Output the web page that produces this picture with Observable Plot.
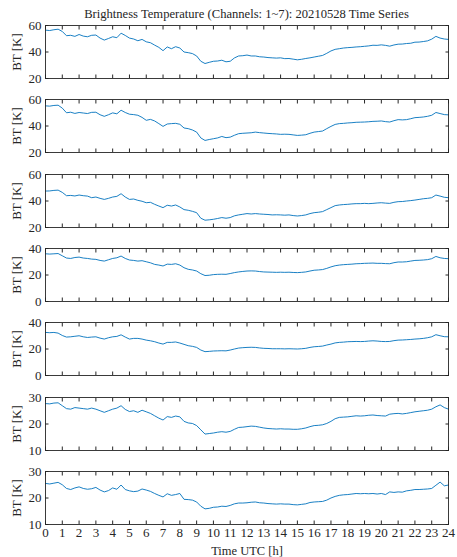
<!DOCTYPE html>
<html>
<head>
<meta charset="utf-8">
<script src="https://cdn.jsdelivr.net/npm/d3@7"></script>
<script src="https://cdn.jsdelivr.net/npm/@observablehq/plot@0.6"></script>
<style>
  body { margin: 0; background: #ffffff; }
  #chart { position: relative; width: 457px; height: 557px; overflow: hidden; background: #ffffff;
           font-family: "Liberation Serif", "Times New Roman", serif; color: #262626; }
  #title { position: absolute; top: 7px; left: 0; width: 493px; text-align: center;
           font-family: "Liberation Serif", "Times New Roman", serif;
           font-size: 12.6px; line-height: 15px; white-space: nowrap; }
  .panel { position: absolute; left: 0; }
</style>
</head>
<body>
<div id="chart">
  <div id="title"></div>
</div>
<script>
const titleText = "Brightness Temperature (Channels: 1~7): 20210528 Time Series";
const xLabel = "Time UTC [h]";
const yLabel = "BT [K]";

// sample times (hours UTC), every 15 minutes
const hours = d3.range(0, 24.25, 0.25);
const xTicks = d3.range(0, 25, 1);

const ch1 = [56.5,56.2,56.8,57.2, 55.5,52.3,52.6,51.8, 53.2,52.0,51.5,52.6, 52.8,50.5,49.0,50.2,
  51.5,50.8,54.2,52.5, 50.5,49.8,48.5,49.5, 47.7,47.0,45.2,43.5, 41.0,43.8,42.5,44.0,
  43.0,40.0,39.5,38.8, 37.0,33.0,31.3,32.2, 33.0,33.2,33.8,32.6, 33.0,35.5,37.0,37.2,
  37.7,37.0,37.0,36.4, 36.2,35.8,35.6,35.4, 35.6,35.0,35.1,34.6, 34.1,34.5,35.1,35.6,
  36.2,36.8,37.4,39.0, 40.8,42.0,42.5,43.0, 43.3,43.5,43.8,44.0, 44.3,44.6,45.1,45.0,
  45.4,45.0,44.4,45.3, 45.9,46.0,46.4,46.6, 47.4,47.5,47.9,48.4, 49.7,51.8,50.5,49.8, 49.5];
const ch2 = [55.2,55.0,55.5,55.7, 53.5,50.0,50.4,49.5, 50.2,49.8,49.4,50.3, 50.4,48.5,47.3,48.5,
  49.9,49.2,51.9,50.2, 48.9,48.6,48.1,46.5, 44.3,45.0,43.8,41.8, 39.7,41.5,41.8,42.0,
  41.3,38.5,38.0,37.0, 35.4,31.0,29.1,29.8, 30.4,31.0,32.1,31.2, 31.6,33.0,34.2,34.5,
  34.7,34.9,35.4,35.0, 34.7,34.4,34.2,34.0, 33.7,33.8,33.7,33.3, 32.9,33.1,33.4,34.5,
  35.4,35.8,36.2,38.0, 39.7,41.2,41.8,42.0, 42.3,42.5,42.8,42.9, 43.0,43.2,43.5,43.6,
  43.8,43.3,43.0,44.0, 44.8,44.6,44.8,45.5, 46.3,46.5,46.8,47.3, 48.1,50.2,49.4,48.6, 48.4];
const ch3 = [47.5,47.6,48.0,48.2, 46.5,44.0,44.2,43.8, 44.5,44.0,43.7,42.5, 43.0,42.0,41.2,42.0,
  43.0,43.5,45.5,43.0, 41.2,41.5,40.5,39.8, 38.7,39.0,37.5,36.2, 35.0,36.8,36.2,37.0,
  35.5,33.5,33.0,32.2, 31.2,27.0,25.5,25.8, 26.2,26.8,27.5,27.0, 27.5,28.8,29.5,30.0,
  30.5,30.2,30.5,30.2, 30.0,29.8,29.5,29.6, 29.5,29.3,29.5,29.0, 28.7,29.0,29.5,30.5,
  31.2,31.5,32.0,33.5, 35.0,36.5,37.0,37.3, 37.5,37.8,38.0,38.0, 38.2,38.0,38.2,38.5,
  38.7,38.4,38.2,39.0, 39.5,39.6,40.0,40.3, 40.7,41.2,41.7,42.0, 42.5,44.5,43.7,42.8, 42.5];
const ch4 = [36.0,35.8,36.0,36.2, 34.5,32.8,32.5,33.2, 33.5,32.8,32.5,32.0, 31.8,31.0,30.5,31.5,
  32.5,33.0,34.3,32.5, 31.3,31.0,30.5,30.8, 30.0,29.2,28.0,27.5, 26.8,28.2,28.0,28.5,
  27.5,25.5,24.3,23.8, 23.0,21.0,19.6,19.8, 20.3,20.5,20.6,20.5, 21.1,21.8,22.3,22.7,
  23.0,23.1,23.0,22.6, 22.3,22.2,22.1,22.0, 22.1,22.0,22.1,21.9, 21.8,22.0,22.3,23.0,
  23.6,23.8,24.1,25.0, 26.1,27.0,27.5,27.8, 28.0,28.2,28.5,28.6, 28.8,28.9,29.0,28.8,
  28.8,28.6,28.5,29.3, 29.8,29.8,30.0,30.5, 31.0,31.1,31.3,31.6, 32.3,34.0,33.0,32.5, 32.3];
const ch5 = [32.5,32.3,32.5,32.0, 30.2,29.0,29.2,29.6, 30.0,29.2,28.7,29.0, 29.2,28.2,27.5,28.5,
  29.2,29.5,30.7,29.0, 27.5,28.0,28.0,27.5, 26.7,26.2,25.5,24.5, 23.7,25.0,25.0,25.3,
  24.5,23.5,22.5,22.0, 21.2,19.2,18.0,18.2, 18.5,18.6,18.7,18.6, 19.2,20.0,20.7,21.0,
  21.2,21.3,21.2,20.8, 20.5,20.4,20.2,20.2, 20.2,20.1,20.2,20.1, 20.0,20.2,20.5,21.2,
  21.7,21.9,22.2,23.0, 23.7,24.6,25.0,25.2, 25.5,25.6,25.7,25.6, 25.7,26.0,26.2,26.0,
  25.7,25.6,25.7,26.3, 26.7,26.8,27.0,27.2, 27.5,27.7,28.0,28.5, 29.2,30.8,30.0,29.3, 29.2];
const ch6 = [27.7,27.6,27.9,28.0, 26.9,25.8,25.6,26.2, 26.0,25.8,25.6,26.0, 25.6,25.0,24.4,25.0,
  25.6,26.0,26.9,25.5, 24.7,25.0,24.4,25.2, 24.6,24.0,23.1,22.2, 21.5,22.8,22.5,23.0,
  22.7,21.0,20.4,20.2, 19.4,17.8,16.2,16.4, 16.6,16.9,17.1,16.9, 17.2,18.0,18.7,18.8,
  19.0,19.2,19.1,18.8, 18.5,18.3,18.2,18.1, 18.2,18.1,18.1,18.0, 18.0,18.2,18.5,19.0,
  19.4,19.5,19.7,20.2, 21.0,22.0,22.5,22.6, 22.7,22.9,23.1,23.0, 23.1,23.3,23.4,23.2,
  23.1,23.0,23.7,23.9, 24.0,23.8,24.0,24.3, 24.6,24.8,25.0,25.2, 25.6,26.5,27.2,26.2, 25.6];
const ch7 = [25.5,25.3,25.6,25.9, 25.0,23.6,23.2,23.8, 24.2,23.6,23.3,23.5, 24.0,23.0,22.3,22.8,
  23.8,23.3,24.9,23.2, 22.7,22.4,22.6,23.4, 23.0,22.5,21.7,21.0, 20.4,21.6,21.0,21.3,
  21.7,19.5,19.4,19.2, 18.5,16.9,15.9,16.1, 16.5,16.6,16.9,16.8, 17.2,17.8,18.1,18.1,
  18.2,18.4,18.5,18.2, 18.1,17.9,17.8,17.7, 17.8,17.7,17.7,17.5, 17.4,17.6,17.8,18.3,
  18.5,18.6,18.7,19.2, 20.0,20.6,21.0,21.2, 21.3,21.5,21.7,21.6, 21.7,21.6,21.7,21.5,
  21.7,21.3,22.3,22.1, 22.3,22.2,22.7,22.9, 23.2,23.2,23.3,23.4, 23.6,24.8,26.0,24.6, 24.9];

const channels = [ch1, ch2, ch3, ch4, ch5, ch6, ch7];
const yDomains = [[20, 60], [20, 60], [20, 60], [0, 40], [0, 40], [10, 30], [10, 30]];
const yTickValues = [[20, 40, 60], [20, 40, 60], [20, 40, 60], [0, 20, 40], [0, 20, 40], [10, 20, 30], [10, 20, 30]];

const ink = "#262626";
const lineColor = "#0072BD";
const fontStack = '"Liberation Serif", "Times New Roman", serif';
const frameTops = [25, 99, 174, 248, 322, 397, 471];
const frameH = 53;
const mT = 8;

document.getElementById("title").textContent = titleText;
const chart = document.getElementById("chart");

channels.forEach((vals, i) => {
  const last = i === channels.length - 1;
  const mB = last ? 40 : 8;
  const data = hours.map((h, j) => ({h, v: vals[j]}));
  const noText = () => "";
  const marks = [
    Plot.line(data, {x: "h", y: "v", stroke: lineColor, strokeWidth: 0.9}),
    Plot.axisX({anchor: "bottom", ticks: xTicks, tickSize: -3.5, tickFormat: noText, label: null, stroke: ink}),
    Plot.axisX({anchor: "top", ticks: xTicks, tickSize: -3.5, tickFormat: noText, label: null, stroke: ink}),
    Plot.axisY({anchor: "left", ticks: yTickValues[i], tickSize: -3.5, tickFormat: noText, label: null, stroke: ink}),
    Plot.axisY({anchor: "right", ticks: yTickValues[i], tickSize: -3.5, tickFormat: noText, label: null, stroke: ink}),
    Plot.axisY({anchor: "left", ticks: yTickValues[i], tickSize: 0, tickPadding: 4, tickFormat: d => String(d),
      label: yLabel, labelAnchor: "center", labelArrow: "none", labelOffset: 34, fill: ink,
      fontFamily: fontStack, fontSize: 13}),
    Plot.frame({stroke: ink, strokeWidth: 0.9})
  ];
  if (last) {
    marks.push(Plot.axisX({anchor: "bottom", ticks: xTicks, tickSize: 0, tickPadding: 3, tickFormat: d => String(d),
      label: null, fill: ink, fontFamily: fontStack, fontSize: 13}));
    marks.push(Plot.axisX({anchor: "bottom", ticks: [], tickSize: 0,
      label: xLabel, labelAnchor: "center", labelArrow: "none", labelOffset: 30.5, fill: ink,
      fontFamily: fontStack, fontSize: 12.5}));
  }
  const svg = Plot.plot({
    width: 457,
    height: mT + frameH + mB,
    marginLeft: 45,
    marginRight: 9,
    marginTop: mT,
    marginBottom: mB,
    x: {domain: [0, 24]},
    y: {domain: yDomains[i]},
    style: {fontFamily: fontStack, fontSize: "13px", color: ink,
            background: "transparent", overflow: "visible"},
    marks
  });
  svg.classList.add("panel");
  svg.style.position = "absolute";
  svg.style.top = (frameTops[i] - mT) + "px";
  svg.style.left = "0px";
  chart.appendChild(svg);
});
</script>
</body>
</html>
